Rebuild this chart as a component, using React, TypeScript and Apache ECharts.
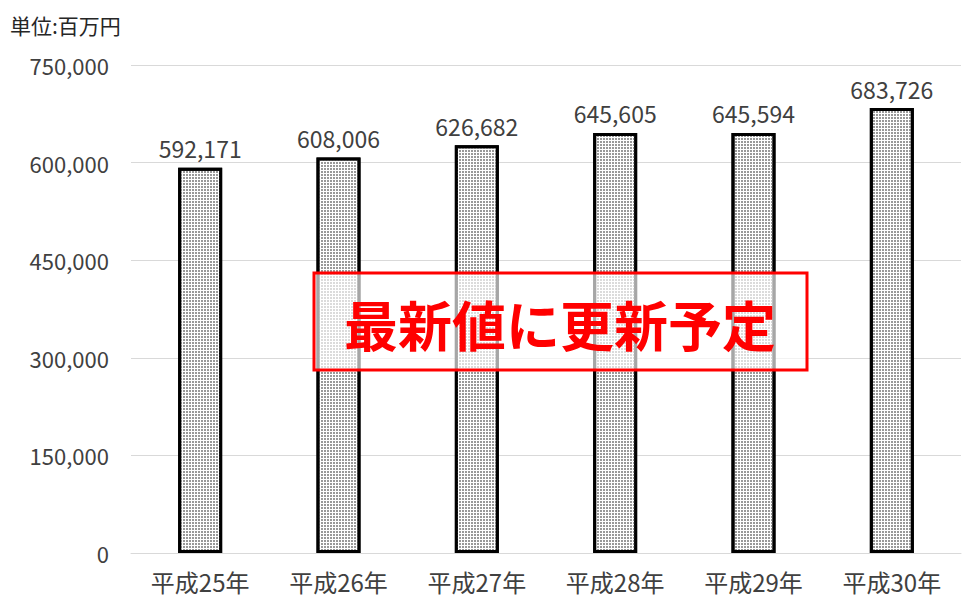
import React, { useEffect, useRef } from "react";
import * as echarts from "echarts";

const categories = ["平成25年", "平成26年", "平成27年", "平成28年", "平成29年", "平成30年"];
const values = [592171, 608006, 626682, 645605, 645594, 683726];
const unitLabel = "単位:百万円";
const overlayText = "最新値に更新予定";
const yMax = 750000;
const yInterval = 150000;

const FONT = '"Noto Sans CJK JP", "Noto Sans", sans-serif';

export default function App() {
  const ref = useRef<HTMLDivElement>(null);
  useEffect(() => {
    if (!ref.current) return;
    const chart = echarts.init(ref.current, undefined, { renderer: "svg" });
    chart.setOption({
      animation: false,
      backgroundColor: "#ffffff",
      textStyle: { fontFamily: FONT },
      grid: { left: 131, right: 15, top: 65, bottom: 59, containLabel: false },
      xAxis: {
        type: "category",
        data: categories,
        axisLine: { lineStyle: { color: "#d9d9d9", width: 1 } },
        axisTick: { show: false },
        axisLabel: { color: "#404040", fontSize: 24, margin: 16, fontFamily: FONT },
      },
      yAxis: {
        type: "value",
        min: 0,
        max: yMax,
        interval: yInterval,
        axisLine: { show: false },
        axisTick: { show: false },
        splitLine: { lineStyle: { color: "#d9d9d9", width: 1 } },
        axisLabel: {
          color: "#404040",
          fontSize: 22,
          margin: 22,
          fontFamily: FONT,
          formatter: (v: number) => v.toLocaleString("en-US"),
        },
      },
      series: [
        {
          type: "bar",
          data: values,
          barWidth: 44,
          itemStyle: {
            color: "#ffffff",
            borderColor: "#000000",
            borderWidth: 3,
            decal: {
              symbol: "rect",
              symbolSize: 1,
              dashArrayX: [2, 1],
              dashArrayY: [2, 1],
              color: "#999999",
              rotation: 0,
            },
          },
          label: {
            show: true,
            position: "top",
            distance: 8,
            color: "#404040",
            fontSize: 23,
            fontFamily: FONT,
            formatter: (p: any) => Number(p.value).toLocaleString("en-US"),
          },
        },
      ],
      graphic: [
        {
          type: "text",
          left: 10,
          top: 14,
          style: { text: unitLabel, fill: "#262626", fontSize: 21, fontFamily: FONT },
        },
        {
          type: "rect",
          shape: { x: 314, y: 273, width: 493, height: 97 },
          style: { fill: "rgba(255,255,255,0.65)", stroke: "#ff0000", lineWidth: 3 },
          z: 100,
        },
        {
          type: "text",
          x: 560,
          y: 323,
          style: {
            text: overlayText,
            fill: "#ff0000",
            fontSize: 54,
            fontWeight: "bold",
            fontFamily: FONT,
            align: "center",
            verticalAlign: "middle",
          },
          z: 101,
        },
      ],
    });
    return () => chart.dispose();
  }, []);
  return (
    <div
      ref={ref}
      style={{ position: "fixed", left: 0, top: 0, width: 976, height: 612 }}
    />
  );
}
